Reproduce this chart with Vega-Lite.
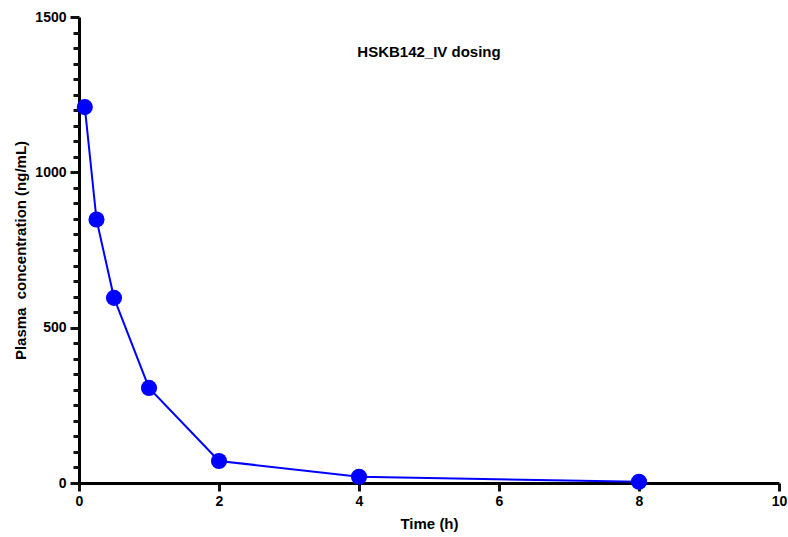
{
  "$schema": "https://vega.github.io/schema/vega-lite/v6.json",
  "width": 700,
  "height": 466,
  "autosize": {"type": "none"},
  "padding": {"left": 79, "top": 17, "right": 9, "bottom": 54},
  "background": "white",
  "config": {
    "view": {"stroke": null},
    "font": "Liberation Sans"
  },
  "title": {
    "text": "HSKB142_IV dosing",
    "fontSize": 15,
    "fontWeight": "bold",
    "font": "Liberation Sans",
    "color": "black",
    "anchor": "middle",
    "offset": -65,
    "baseline": "bottom"
  },
  "data": {
    "values": [
      {"time": 0.083, "conc": 1210},
      {"time": 0.25, "conc": 848},
      {"time": 0.5, "conc": 596},
      {"time": 1, "conc": 306},
      {"time": 2, "conc": 71},
      {"time": 4, "conc": 20},
      {"time": 8, "conc": 4}
    ]
  },
  "encoding": {
    "x": {
      "field": "time",
      "type": "quantitative",
      "scale": {"domain": [0, 10], "nice": false, "zero": false},
      "axis": {
        "title": "Time (h)",
        "values": [0, 2, 4, 6, 8, 10],
        "format": "d",
        "grid": false,
        "ticks": true,
        "domainColor": "#000000",
        "domainWidth": 3,
        "tickColor": "#111111",
        "tickWidth": 3,
        "tickSize": 8,
        "labelFont": "Liberation Sans",
        "labelFontSize": 14,
        "labelFontWeight": "bold",
        "labelColor": "black",
        "labelPadding": 3,
        "labelFlush": false,
        "titleFont": "Liberation Sans",
        "titleFontSize": 15,
        "titleFontWeight": "bold",
        "titleColor": "black",
        "titlePadding": 8
      }
    }
  },
  "layer": [
    {
      "mark": {"type": "line", "color": "#0000FF", "strokeWidth": 2},
      "encoding": {
        "y": {
          "field": "conc",
          "type": "quantitative",
          "scale": {"domain": [0, 1500], "nice": false},
          "axis": {
            "orient": "left",
            "title": "Plasma \u00a0concentration (ng/mL)",
            "values": [0, 500, 1000, 1500],
            "format": "d",
            "grid": false,
            "ticks": true,
            "domainColor": "#000000",
            "domainWidth": 3,
            "tickColor": "#111111",
            "tickWidth": 3,
            "tickSize": 9,
            "labelFont": "Liberation Sans",
            "labelFontSize": 14,
            "labelFontWeight": "bold",
            "labelColor": "black",
            "labelPadding": 4,
            "labelFlush": false,
            "labelOverlap": false,
            "titleFont": "Liberation Sans",
            "titleFontSize": 15,
            "titleFontWeight": "bold",
            "titleColor": "black",
            "titlePadding": 6
          }
        }
      }
    },
    {
      "mark": {"type": "point", "shape": "circle", "filled": true, "color": "#0000FF", "opacity": 1, "size": 260},
      "encoding": {
        "y": {
          "field": "conc",
          "type": "quantitative",
          "scale": {"domain": [0, 1500], "nice": false},
          "axis": {
            "orient": "left",
            "title": null,
            "values": [50, 100, 150, 200, 250, 300, 350, 400, 450, 550, 600, 650, 700, 750, 800, 850, 900, 950, 1050, 1100, 1150, 1200, 1250, 1300, 1350, 1400, 1450],
            "labels": false,
            "domain": false,
            "grid": false,
            "ticks": true,
            "tickColor": "#111111",
            "tickWidth": 3,
            "tickSize": 6
          }
        }
      }
    }
  ],
  "resolve": {"axis": {"y": "independent"}}
}
